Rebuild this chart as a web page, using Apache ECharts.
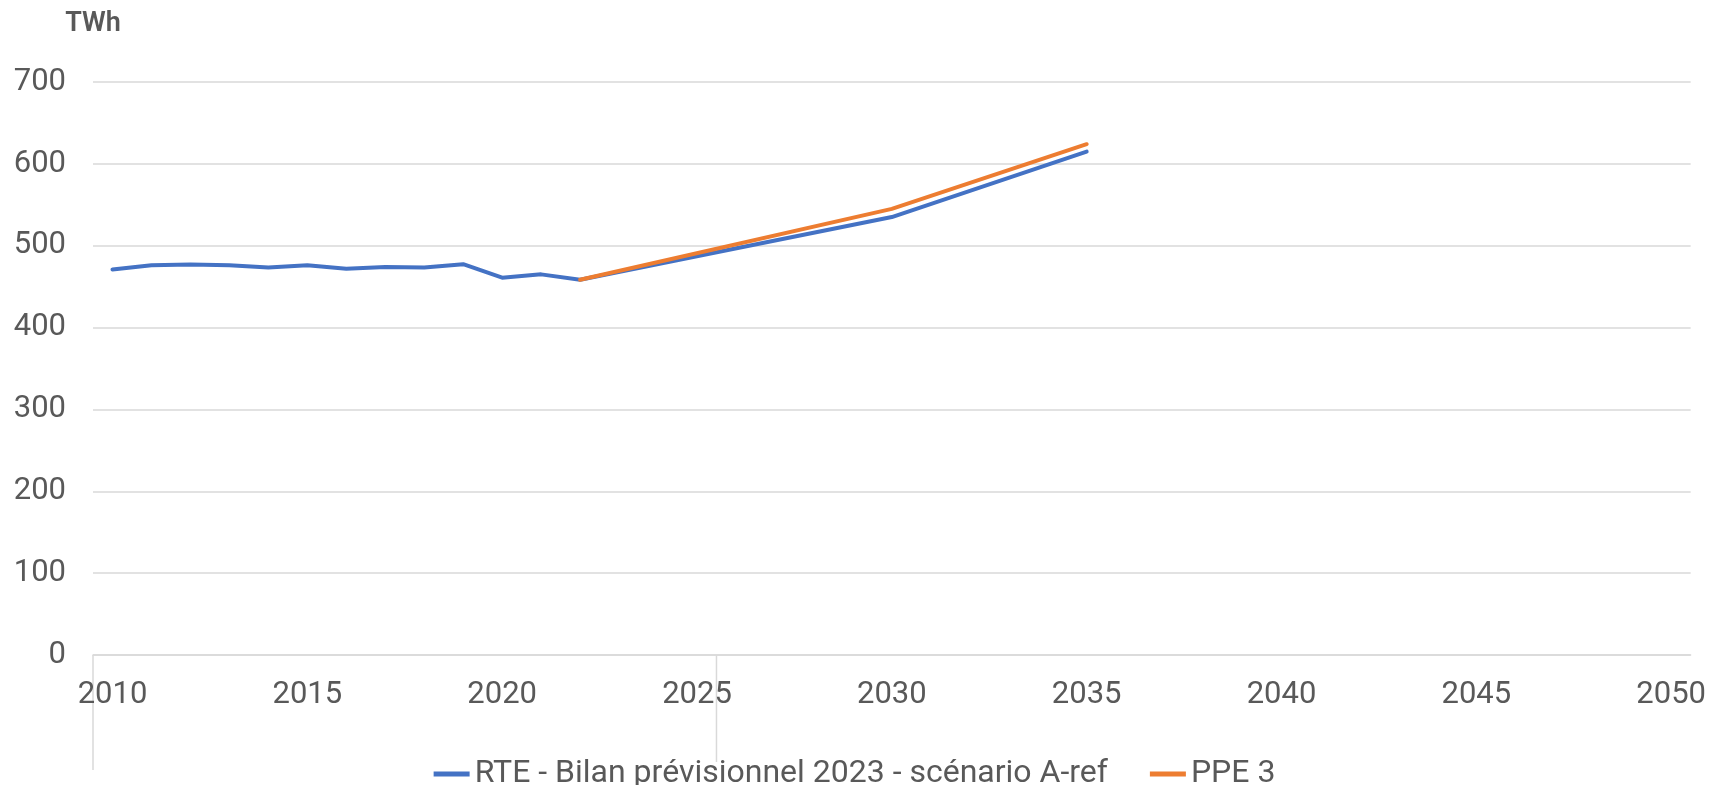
<!DOCTYPE html>
<html>
<head>
<meta charset="utf-8">
<style>
  html, body { margin: 0; padding: 0; background: #ffffff; }
  #chart { width: 1709px; height: 785px; }
</style>
<script src="https://cdn.jsdelivr.net/npm/echarts@6/dist/echarts.min.js"></script>
</head>
<body>
<div id="chart"></div>
<script>
// Categories (years)
const years = ['2010','2011','2012','2013','2014','2015','2016','2017','2018','2019',
               '2020','2021','2022','2023','2024','2025','2026','2027','2028','2029',
               '2030','2031','2032','2033','2034','2035','2036','2037','2038','2039',
               '2040','2041','2042','2043','2044','2045','2046','2047','2048','2049','2050'];

// RTE - Bilan prévisionnel 2023 - scénario A-ref
const rteYears  = ['2010','2011','2012','2013','2014','2015','2016','2017','2018','2019','2020','2021','2022','2030','2035'];
const rteValues = [471, 476, 477, 476, 473.5, 476, 472, 474, 473.5, 477.5, 461, 465, 458.5, 535, 615];

// PPE 3
const ppeYears  = ['2022','2030','2035'];
const ppeValues = [458.5, 545, 624];

// Y axis ticks
const yMin = 0, yMax = 700, yStep = 100;

const seriesNames = ['RTE - Bilan prévisionnel 2023 - scénario A-ref', 'PPE 3'];
const colors = ['#4472C4', '#ED7D31'];

const FONT = 'Roboto, "Noto Sans", "Liberation Sans", sans-serif';
const TEXT = '#595959';
const GRID = '#D9D9D9';

const chart = echarts.init(document.getElementById('chart'), null, { renderer: 'canvas' });

const option = {
  animation: false,
  backgroundColor: '#ffffff',
  grid: { left: 93, right: 17, top: 82, bottom: 130, containLabel: false },
  legend: {
    data: seriesNames,
    left: 'center',
    top: 753,
    icon: 'rect',
    itemWidth: 36,
    itemHeight: 5,
    itemGap: 42,
    textStyle: { fontFamily: FONT, fontSize: 32, color: TEXT }
  },
  xAxis: {
    type: 'category',
    data: years,
    boundaryGap: true,
    axisLine: { show: true, lineStyle: { color: GRID, width: 1.5 } },
    axisTick: { show: false },
    axisLabel: { interval: 4, margin: 25, fontFamily: FONT, fontSize: 31, color: TEXT },
    splitLine: { show: false }
  },
  yAxis: {
    type: 'value',
    min: yMin, max: yMax, interval: yStep,
    name: 'TWh',
    nameLocation: 'end',
    nameGap: 44,
    nameTextStyle: { fontFamily: FONT, fontSize: 27, fontWeight: 600, color: TEXT, align: 'center' },
    axisLine: { show: false },
    axisTick: { show: false },
    axisLabel: { margin: 27, fontFamily: FONT, fontSize: 31, color: TEXT },
    splitLine: { show: true, lineStyle: { color: GRID, width: 1.5 } }
  },
  series: [
    {
      name: seriesNames[0],
      type: 'line',
      data: rteYears.map((y, i) => [y, rteValues[i]]),
      symbol: 'none',
      color: colors[0],
      lineStyle: { color: colors[0], width: 4, cap: 'round', join: 'round' },
      z: 2
    },
    {
      name: seriesNames[1],
      type: 'line',
      data: ppeYears.map((y, i) => [y, ppeValues[i]]),
      symbol: 'none',
      color: colors[1],
      lineStyle: { color: colors[1], width: 4, cap: 'round', join: 'round' },
      z: 3
    }
  ]
};

chart.setOption(option);

// Decorative vertical boundary lines extending below the axis (as in the reference)
const p0 = chart.convertToPixel({ xAxisIndex: 0 }, '2010');
const p1 = chart.convertToPixel({ xAxisIndex: 0 }, '2011');
const band = p1 - p0;
const yAxisPix = chart.convertToPixel({ yAxisIndex: 0 }, 0);
const leftBoundary = p0 - band / 2;
const midBoundary = chart.convertToPixel({ xAxisIndex: 0 }, '2025') + band / 2;
chart.setOption({
  graphic: [
    { type: 'line', silent: true, z: 0,
      shape: { x1: leftBoundary, y1: yAxisPix, x2: leftBoundary, y2: yAxisPix + 115 },
      style: { stroke: GRID, lineWidth: 1.5 } },
    { type: 'line', silent: true, z: 0,
      shape: { x1: midBoundary, y1: yAxisPix, x2: midBoundary, y2: yAxisPix + 107 },
      style: { stroke: GRID, lineWidth: 1.5 } }
  ]
});
</script>
</body>
</html>
